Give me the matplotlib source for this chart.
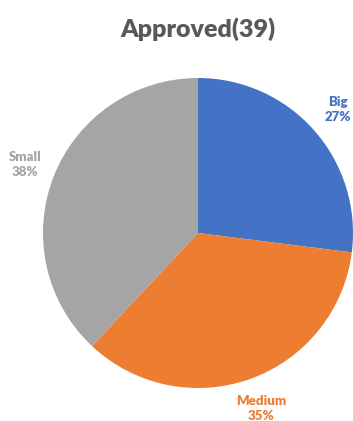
import matplotlib.pyplot as plt

# data
categories = ['Big', 'Medium', 'Small']
shares = [27, 35, 38]
colors = ['#4472C4', '#ED7D31', '#A5A5A5']
title = 'Approved(39)'

plt.rcParams['font.family'] = ['Lato', 'DejaVu Sans']

W, H = 353, 421
fig = plt.figure(figsize=(W / 100, H / 100), dpi=100)
ax = fig.add_axes([0, 0, 1, 1])

labels = ['%s\n%d%%' % (c, s) for c, s in zip(categories, shares)]
wedges, texts = ax.pie(shares, labels=labels, colors=colors, startangle=90,
                       counterclock=False, center=(198, 188), radius=155,
                       labeldistance=1.2, frame=True,
                       wedgeprops=dict(linewidth=0))
ax.set_xlim(0, W)
ax.set_ylim(0, H)
ax.set_aspect('equal')
ax.axis('off')
for t, c in zip(texts, colors):
    t.set_color(c)
    t.set_fontweight('heavy')
    t.set_fontsize(9.5)
    t.set_horizontalalignment('center')
    t.set_verticalalignment('center')
    t.set_linespacing(1.3)

ax.text(198, 392, title, ha='center', va='center', fontsize=18,
        fontweight='heavy', color='#595959')

fig.savefig('out.png', dpi=100)
